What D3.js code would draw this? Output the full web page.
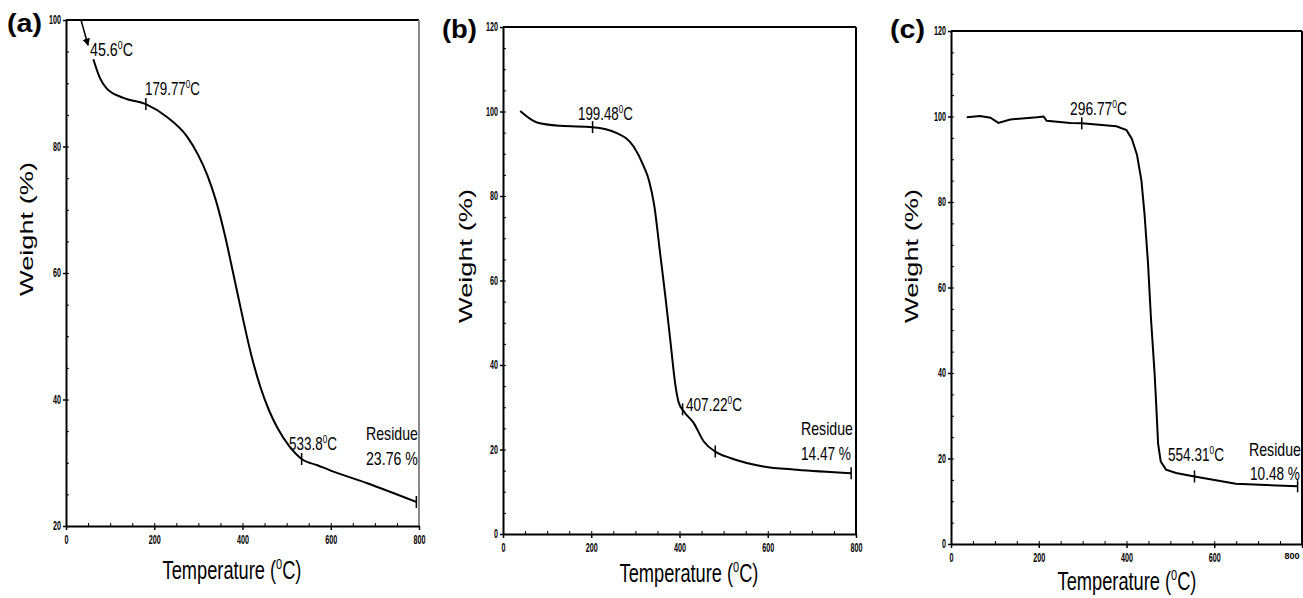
<!DOCTYPE html>
<html lang="en">
<head>
    <meta charset="UTF-8">
    <title>TGA curves</title>
    <script src="https://d3js.org/d3.v7.min.js"></script>
    <style>
        html, body {
            margin: 0;
            background: white;
            font-family: Arial, "Liberation Sans", sans-serif;
        }
        .axis path, .axis line { stroke: black; }
        .axis text { font-weight: bold; fill: black; }
    </style>
</head>
<body>
    <div id="vis"></div>
    <script>

        // temperature (C) and weight (%)
        var tempA = [62, 77, 92, 130, 181, 228, 274, 300, 320, 340, 360, 380, 400, 420, 440, 460, 480, 505, 534, 570, 606, 681, 794];
        var weightA = [93.8, 90.8, 89.2, 87.7, 86.7, 84.7, 81.6, 78.6, 75.5, 71.4, 66.0, 59.6, 53.1, 47.0, 42.1, 38.3, 35.4, 32.7, 30.6, 29.6, 28.6, 26.8, 23.8];

        var tempB = [39, 77, 130, 203, 258, 296, 319, 331, 343, 356, 368, 379, 391, 398, 410, 432, 455, 481, 515, 590, 666, 789];
        var weightB = [100.1, 97.4, 96.6, 96.3, 94.9, 91.7, 87.0, 83.6, 77.6, 66.5, 56.2, 46.0, 35.0, 31.2, 29.0, 26.3, 21.9, 19.5, 18.0, 16.0, 15.2, 14.4];

        var tempC = [36, 66, 90, 108, 135, 196, 211, 218, 272, 298, 377, 400, 412, 424, 434, 441, 449, 456, 464, 468, 472, 478, 490, 513, 555, 649, 790];
        var weightC = [99.8, 100.1, 99.7, 98.5, 99.3, 99.8, 100, 99, 98.5, 98.4, 97.7, 96.8, 94.8, 91.0, 85.0, 77.3, 65.7, 52.4, 40, 32, 23.5, 19.3, 17.4, 16.6, 15.8, 14.1, 13.5];

        // little cross marks on the curves
        var markTempA = [181, 534, 794];
        var markWeightA = [86.7, 30.6, 23.8];
        var markTempB = [203, 407, 481, 789];
        var markWeightB = [96.3, 29.5, 19.5, 14.4];
        var markTempC = [298, 555, 790];
        var markWeightC = [98.4, 15.8, 13.5];

        // onset arrow in (a)
        var arrowTempA = [34, 50];
        var arrowWeightA = [100, 96];

        var xTicks = [0, 200, 400, 600, 800];
        var yTicksA = [20, 40, 60, 80, 100];
        var yTicksBC = [0, 20, 40, 60, 80, 100, 120];

        var svg = d3.select('#vis')
                    .append('svg')
                        .attr('width', 1303)
                        .attr('height', 598);

        var defs = svg.append('defs');
        defs.append('marker')
            .attr('id', 'arrow')
            .attr('viewBox', '0 0 10 10')
            .attr('refX', 9)
            .attr('refY', 5)
            .attr('markerWidth', 5)
            .attr('markerHeight', 5)
            .attr('orient', 'auto')
          .append('path')
            .attr('d', 'M0,0L10,5L0,10z')
            .attr('fill', 'black');

        // scale a text element so that it spans a given width
        function fit(t, x, y, w, rot) {
            var w0 = t.node().getBBox().width;
            t.attr('transform', 'translate(' + x + ',' + y + ')' + (rot ? ' rotate(' + rot + ')' : '') + ' scale(' + (w / w0) + ',1)');
            return t;
        }

        function degLabel(g, x, y, num, w) {
            var t = g.append('text').attr('font-size', 18).attr('fill', 'black');
            t.append('tspan').text(num);
            t.append('tspan').attr('font-size', 11).attr('dy', -7).text('0');
            t.append('tspan').attr('dy', 7).text('C');
            fit(t, x, y, w);
        }

        function plainLabel(g, x, y, txt, w, size, weight, anchor) {
            var t = g.append('text')
                .attr('font-size', size)
                .attr('font-weight', weight || 'normal')
                .attr('text-anchor', anchor || 'start')
                .text(txt);
            fit(t, x, y, w);
        }

        var panels = [
            { id: 'a', left: 66, top: 20, right: 419, bottom: 526, ymin: 20, ymax: 100, yticks: yTicksA,
              temp: tempA, weight: weightA, mt: markTempA, mw: markWeightA, curve: d3.curveMonotoneX,
              tag: [7, 32], wy: [33, 229], tx: [232, 579], rightColor: '#888' },
            { id: 'b', left: 503, top: 27, right: 856, bottom: 534, ymin: 0, ymax: 120, yticks: yTicksBC,
              temp: tempB, weight: weightB, mt: markTempB, mw: markWeightB, curve: d3.curveMonotoneX,
              tag: [442, 38], wy: [472, 256], tx: [689, 582], rightColor: 'black' },
            { id: 'c', left: 951, top: 31, right: 1302, bottom: 544, ymin: 0, ymax: 120, yticks: yTicksBC,
              temp: tempC, weight: weightC, mt: markTempC, mw: markWeightC, curve: d3.curveLinear,
              tag: [890, 38], wy: [918, 256], tx: [1127, 590], rightColor: 'black' }
        ];

        panels.forEach(function(p) {
            var g = svg.append('g');

            var x = d3.scaleLinear().domain([0, 800]).range([p.left, p.right]);
            var y = d3.scaleLinear().domain([p.ymin, p.ymax]).range([p.bottom, p.top]);
            p.x = x; p.y = y;

            // minor ticks, pointing in
            var xMinor = d3.range(0, 801, 50);
            var yMinor = d3.range(p.ymin, p.ymax + 1, 5);
            g.append('g').attr('class', 'axis')
                .attr('transform', 'translate(0,' + p.bottom + ')')
                .call(d3.axisBottom(x).tickValues(xMinor).tickSize(-3).tickFormat(''))
                .select('.domain').remove();
            g.append('g').attr('class', 'axis')
                .attr('transform', 'translate(' + p.left + ',0)')
                .call(d3.axisLeft(y).tickValues(yMinor).tickSize(-3).tickFormat(''))
                .select('.domain').remove();

            // frame
            g.append('line').attr('x1', p.left).attr('x2', p.right).attr('y1', p.top).attr('y2', p.top)
                .attr('stroke', 'black').attr('stroke-width', 2);
            g.append('line').attr('x1', p.right).attr('x2', p.right).attr('y1', p.top).attr('y2', p.bottom)
                .attr('stroke', p.rightColor).attr('stroke-width', 2);

            var xa = g.append('g').attr('class', 'axis')
                .attr('transform', 'translate(0,' + p.bottom + ')')
                .call(d3.axisBottom(x).tickValues(xTicks).tickSize(4).tickPadding(5).tickSizeOuter(0));
            var ya = g.append('g').attr('class', 'axis')
                .attr('transform', 'translate(' + p.left + ',0)')
                .call(d3.axisLeft(y).tickValues(p.yticks).tickSize(3).tickPadding(2).tickSizeOuter(0));
            [xa, ya].forEach(function(a) {
                a.select('.domain').attr('stroke-width', 2);
                a.selectAll('.tick line').attr('stroke-width', 1.5);
                a.selectAll('text')
                    .attr('font-size', 12)
                    .attr('font-family', 'Arial, sans-serif')
                    .attr('fill', 'black')
                    .attr('textLength', function(d) { return String(d).length * 4; })
                    .attr('lengthAdjust', 'spacingAndGlyphs');
            });
            // keep the last label inside the page when the panel touches the edge
            if (p.right > 1290) {
                xa.selectAll('text').filter(function(d) { return d === 800; })
                    .attr('textLength', null)
                    .attr('lengthAdjust', null)
                    .attr('font-size', 9)
                    .attr('text-anchor', 'end')
                    .attr('dx', -3);
            }

            var line = d3.line()
                .curve(p.curve)
                .x(function(d, i) { return x(p.temp[i]); })
                .y(function(d, i) { return y(p.weight[i]); });

            g.append('path')
                .datum(p.temp)
                .attr('d', line)
                .attr('fill', 'none')
                .attr('stroke', 'black')
                .attr('stroke-width', 2);

            g.selectAll('.mark')
                .data(p.mt)
                .enter()
                .append('line')
                .attr('class', 'mark')
                .attr('x1', function(d) { return x(d); })
                .attr('x2', function(d) { return x(d); })
                .attr('y1', function(d, i) { return y(p.mw[i]) - 6; })
                .attr('y2', function(d, i) { return y(p.mw[i]) + 6; })
                .attr('stroke', 'black')
                .attr('stroke-width', 1.5);

            // panel letter and axis titles
            plainLabel(g, p.tag[0], p.tag[1], '(' + p.id + ')', 35, 25, 'bold');

            var wt = g.append('text')
                .attr('font-size', 19)
                .attr('text-anchor', 'middle')
                .text('Weight (%)');
            fit(wt, p.wy[0], p.wy[1], 134, -90);

            var tt = g.append('text').attr('font-size', 25).attr('text-anchor', 'middle');
            tt.append('tspan').text('Temperature (');
            tt.append('tspan').attr('font-size', 15).attr('dy', -10).text('0');
            tt.append('tspan').attr('dy', 10).text('C)');
            fit(tt, p.tx[0], p.tx[1], 139);

            p.g = g;
        });

        var pa = panels[0], pb = panels[1], pc = panels[2];

        pa.g.append('line')
            .attr('x1', pa.x(arrowTempA[0]))
            .attr('y1', pa.y(arrowWeightA[0]))
            .attr('x2', pa.x(arrowTempA[1]))
            .attr('y2', pa.y(arrowWeightA[1]))
            .attr('stroke', 'black')
            .attr('stroke-width', 1.5)
            .attr('marker-end', 'url(#arrow)');

        degLabel(pa.g, 90, 56, '45.6', 43);
        degLabel(pa.g, 145, 95, '179.77', 55);
        degLabel(pa.g, 289, 450, '533.8', 48);
        plainLabel(pa.g, 366, 440, 'Residue', 52, 18);
        plainLabel(pa.g, 366, 465, '23.76 %', 52, 18);

        degLabel(pb.g, 578, 120, '199.48', 55);
        degLabel(pb.g, 686, 411, '407.22', 56);
        plainLabel(pb.g, 801, 435, 'Residue', 52, 18);
        plainLabel(pb.g, 801, 460, '14.47 %', 50, 18);

        degLabel(pc.g, 1070, 115, '296.77', 57);
        degLabel(pc.g, 1168, 461, '554.31', 56);
        plainLabel(pc.g, 1249, 456, 'Residue', 52, 18);
        plainLabel(pc.g, 1250, 480, '10.48 %', 50, 18);

    </script>
</body>
</html>
